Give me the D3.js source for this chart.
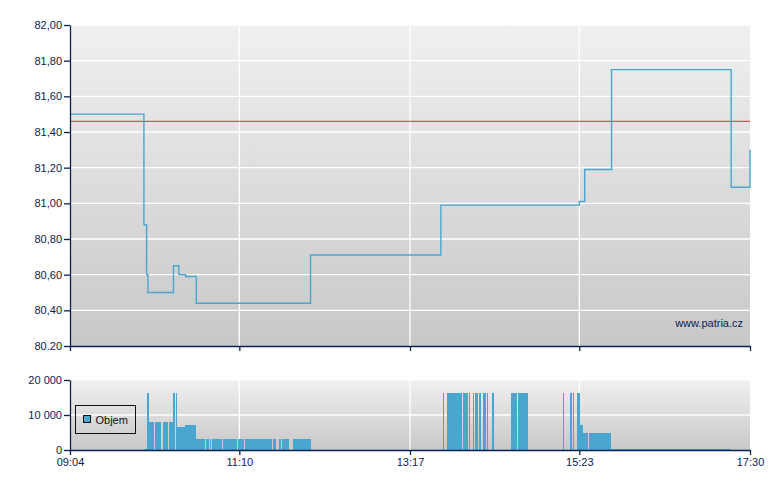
<!DOCTYPE html>
<html lang="cs">
<head>
  <meta charset="UTF-8" />
  <title>Patria intraday</title>
  <script src="https://d3js.org/d3.v7.min.js"></script>
  <style>
    body { margin: 0; background: #fff; }
    svg { display: block; }
    text { font-family: "Liberation Sans", Arial, sans-serif; font-size: 11px; }
  </style>
</head>
<body>
  <svg id="chart" width="780" height="490"></svg>
  <script>
    // price steps (time of change, new price)
    const priceTimes = ["09:04:00", "09:59:00", "10:01:00", "10:02:00", "10:21:00", "10:25:00", "10:30:00",
      "10:38:00", "12:03:00", "13:40:00", "15:23:00", "15:27:00", "15:47:00", "17:16:00", "17:30:00"];
    const priceValues = [81.50, 80.88, 80.60, 80.50, 80.65, 80.60, 80.59,
      80.44, 80.71, 80.99, 81.01, 81.19, 81.75, 81.09, 81.30];
    const prevClose = 81.46;

    // volume blocks
    const volStart = ["09:59:04", "10:01:18", "10:02:47", "10:07:15", "10:12:59", "10:17:40", "10:20:38", "10:22:52", "10:23:59", "10:29:34",
      "10:37:46", "10:45:34", "10:48:10", "10:50:02", "10:57:51", "11:04:10", "11:09:01", "11:14:13", "11:16:49", "11:35:03",
      "11:37:40", "11:39:09", "11:41:45", "11:48:05", "11:49:34",
      "13:41:33", "13:44:32", "13:56:26", "14:00:54", "14:03:52", "14:05:22", "14:08:20", "14:11:19", "14:14:17", "14:18:00",
      "14:32:09", "14:37:22", "15:10:50", "15:16:03", "15:18:17", "15:21:16", "15:23:29", "15:25:43", "15:30:11", "15:46:34"];
    const volEnd = ["10:01:18", "10:02:47", "10:06:30", "10:11:43", "10:16:55", "10:20:38", "10:21:46", "10:23:59", "10:29:34", "10:37:46",
      "10:44:27", "10:47:26", "10:49:17", "10:57:06", "11:03:26", "11:08:16", "11:13:28", "11:16:05", "11:34:19", "11:36:55",
      "11:38:24", "11:41:00", "11:47:20", "11:48:49", "12:03:20",
      "13:42:17", "13:55:41", "14:00:09", "14:01:38", "14:04:37", "14:07:36", "14:09:50", "14:13:33", "14:15:02", "14:19:30",
      "14:36:37", "14:44:48", "15:11:35", "15:17:32", "15:19:02", "15:23:29", "15:25:43", "15:29:26", "15:46:34", "17:15:51"];
    const volValues = [300, 16200, 8000, 8000, 8000, 8000, 16200, 16200, 6600, 7200,
      3200, 3200, 3200, 3200, 3200, 3200, 3200, 3200, 3200, 3200,
      3200, 3200, 3200, 3200, 3200,
      16200, 16200, 16200, 16200, 16200, 16200, 16200, 16200, 16200, 16200,
      16200, 16200, 16200, 16200, 16200, 16200, 7100, 4900, 4900, 400];

    const timeTicks = ["09:04:00", "11:10:00", "13:17:00", "15:23:00", "17:30:00"];
    const priceTicks = [80.2, 80.4, 80.6, 80.8, 81.0, 81.2, 81.4, 81.6, 81.8, 82.0];
    const priceTickLabels = ["80.20", "80,40", "80,60", "80,80", "81,00", "81,20", "81,40", "81,60", "81,80", "82,00"];
    const volTicks = [0, 10000, 20000];
    const volTickLabels = ["0", "10 000", "20 000"];

    const parse = d3.timeParse("%H:%M:%S");
    const svg = d3.select('#chart');
    const navy = '#0b2153';
    const blue = '#49a7cf';

    const left = 70, right = 750;
    const top1 = 25, bottom1 = 346;
    const top2 = 380, bottom2 = 450;

    const x = d3.scaleTime()
      .domain([parse("09:04:00"), parse("17:30:00")])
      .range([left, right]);
    const y = d3.scaleLinear().domain([80.2, 82]).range([bottom1, top1]);
    const yv = d3.scaleLinear().domain([0, 20000]).range([bottom2, top2]);

    const defs = svg.append('defs');
    const grad = defs.append('linearGradient')
      .attr('id', 'bg').attr('x1', 0).attr('y1', 0).attr('x2', 0).attr('y2', 1);
    grad.append('stop').attr('offset', '0%').attr('stop-color', '#f0f0f0');
    grad.append('stop').attr('offset', '100%').attr('stop-color', '#c8c8c8');
    defs.append('clipPath').attr('id', 'clip1')
      .append('rect').attr('x', left).attr('y', top1).attr('width', right - left + 1).attr('height', bottom1 - top1);

    // panel backgrounds
    svg.append('rect').attr('x', left).attr('y', top1).attr('width', right - left).attr('height', bottom1 - top1)
      .attr('fill', 'url(#bg)');
    svg.append('rect').attr('x', left).attr('y', top2).attr('width', right - left).attr('height', bottom2 - top2)
      .attr('fill', 'url(#bg)');

    // grids
    const tVals = timeTicks.map(parse);
    const grid = svg.append('g').attr('stroke', '#fff').attr('stroke-width', 1.3);
    grid.selectAll('.hp').data(priceTicks.slice(1, -1)).join('line')
      .attr('x1', left).attr('x2', right).attr('y1', d => y(d)).attr('y2', d => y(d));
    grid.selectAll('.hv').data(volTicks.slice(1, -1)).join('line')
      .attr('x1', left).attr('x2', right).attr('y1', d => yv(d)).attr('y2', d => yv(d));
    grid.selectAll('.v1').data(tVals.slice(1, -1)).join('line')
      .attr('x1', d => x(d)).attr('x2', d => x(d)).attr('y1', top1).attr('y2', bottom1);
    grid.selectAll('.v2').data(tVals.slice(1, -1)).join('line')
      .attr('x1', d => x(d)).attr('x2', d => x(d)).attr('y1', top2).attr('y2', bottom2);
    svg.append('line').attr('x1', left).attr('x2', right).attr('y1', top1 + 0.5).attr('y2', top1 + 0.5)
      .attr('stroke', '#f8f8f8');
    svg.append('line').attr('x1', left).attr('x2', right).attr('y1', top2 + 0.5).attr('y2', top2 + 0.5)
      .attr('stroke', '#f8f8f8');

    // previous close
    svg.append('line')
      .attr('x1', left).attr('x2', right)
      .attr('y1', y(prevClose)).attr('y2', y(prevClose))
      .attr('stroke', '#c83232').attr('stroke-width', 1);

    // price line
    const prices = priceTimes.map((t, i) => ({ t: parse(t), v: priceValues[i] }));
    const line = d3.line().x(d => x(d.t)).y(d => y(d.v)).curve(d3.curveStepAfter);
    svg.append('path')
      .datum(prices)
      .attr('clip-path', 'url(#clip1)')
      .attr('fill', 'none')
      .attr('stroke', blue)
      .attr('stroke-width', 1.4)
      .attr('d', line);

    // volume bars
    const vols = volStart.map((s, i) => ({ s: parse(s), e: parse(volEnd[i]), v: volValues[i] }));
    svg.append('g').selectAll('rect').data(vols).join('rect')
      .attr('x', d => x(d.s))
      .attr('width', d => Math.max(0.8, x(d.e) - x(d.s)))
      .attr('y', d => yv(d.v))
      .attr('height', d => bottom2 - yv(d.v))
      .attr('fill', blue)
      .attr('shape-rendering', 'crispEdges');

    // axes
    const fmtTime = d3.timeFormat("%H:%M");
    function styleAxis(g) {
      g.select('.domain').attr('stroke', navy).attr('stroke-width', 1.3);
      g.selectAll('.tick line').attr('stroke', navy).attr('stroke-width', 1.3);
      g.selectAll('.tick text').attr('fill', navy).style('font-size', '11px')
        .style('font-family', '"Liberation Sans", Arial, sans-serif');
    }
    svg.append('g').attr('transform', `translate(0,${bottom1})`)
      .call(d3.axisBottom(x).tickValues(tVals).tickSize(5).tickSizeOuter(0).tickFormat(''))
      .call(styleAxis);
    svg.append('g').attr('transform', `translate(0,${bottom2})`)
      .call(d3.axisBottom(x).tickValues(tVals).tickSize(5).tickSizeOuter(0).tickFormat(fmtTime).tickPadding(3))
      .call(styleAxis);
    svg.append('g').attr('transform', `translate(${left},0)`)
      .call(d3.axisLeft(y).tickValues(priceTicks).tickSize(6).tickSizeOuter(0).tickPadding(2)
        .tickFormat((d, i) => priceTickLabels[i]))
      .call(styleAxis);
    svg.append('g').attr('transform', `translate(${left},0)`)
      .call(d3.axisLeft(yv).tickValues(volTicks).tickSize(6).tickSizeOuter(0).tickPadding(2)
        .tickFormat((d, i) => volTickLabels[i]))
      .call(styleAxis);

    // watermark
    svg.append('text')
      .attr('x', right - 7).attr('y', bottom1 - 19)
      .attr('text-anchor', 'end')
      .attr('fill', navy)
      .text('www.patria.cz');

    // legend
    const lg = svg.append('g').attr('transform', 'translate(75.5,405.5)');
    lg.append('rect').attr('width', 60).attr('height', 28)
      .attr('fill', 'none').attr('stroke', '#111').attr('stroke-width', 1);
    lg.append('rect').attr('x', 8).attr('y', 10).attr('width', 7).attr('height', 7)
      .attr('fill', blue).attr('stroke', '#111');
    lg.append('text').attr('x', 20).attr('y', 18.5).attr('fill', '#111').text('Objem');
  </script>
</body>
</html>
